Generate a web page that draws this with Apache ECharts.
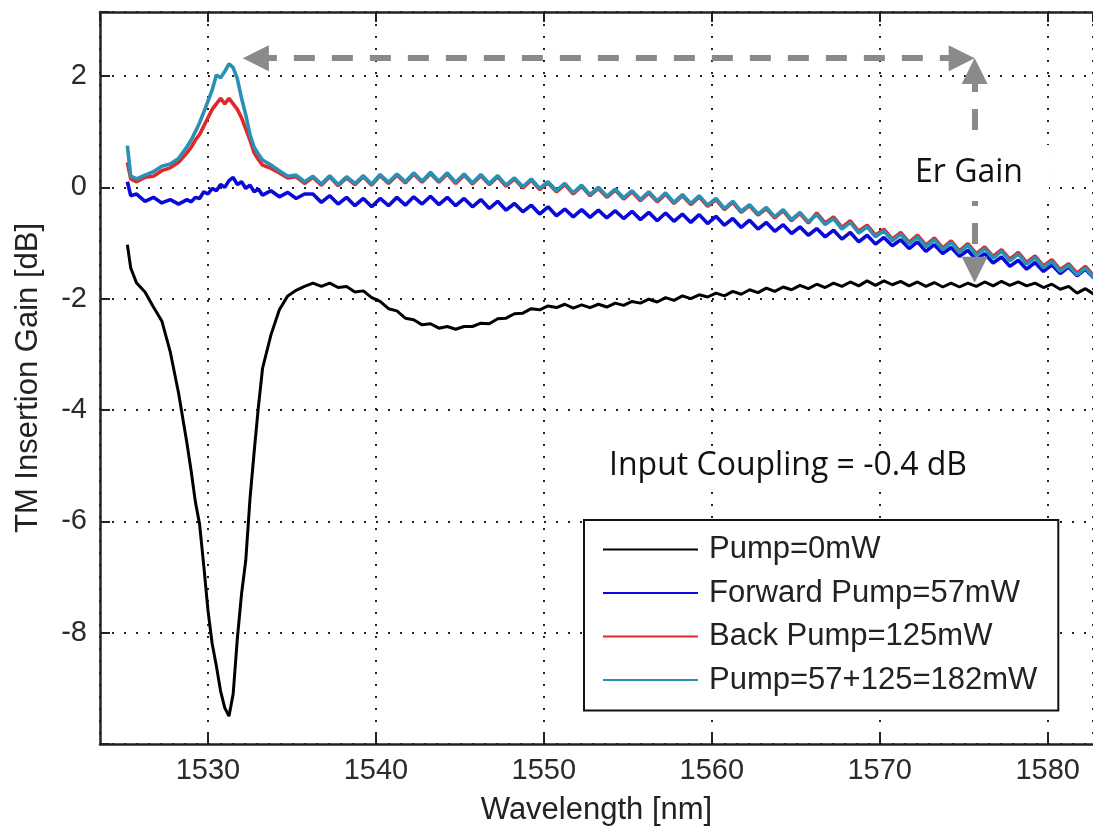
<!DOCTYPE html>
<html>
<head>
<meta charset="utf-8">
<script src="https://cdn.jsdelivr.net/npm/echarts@6/dist/echarts.min.js"></script>
<style>
html,body{margin:0;padding:0;background:#fff;}
#chart{width:1093px;height:834px;}
</style>
</head>
<body>
<div id="chart"></div>
<script>
// Wavelength samples [nm]
const wavelength = [
1525.2,1525.4,1525.75,1526.25,1526.75,1527.25,1527.75,1528.25,1528.75,1529,
1529.25,1529.5,1529.75,1530,1530.25,1530.5,1530.75,1531,1531.25,1531.5,
1531.75,1532,1532.25,1532.5,1532.75,1533,1533.25,1533.75,1534.25,1534.75,
1535.25,1535.75,
1536.25,1536.75,1537.25,1537.75,1538.25,1538.75,1539.25,1539.75,1540.25,1540.75,
1541.25,1541.75,1542.25,1542.75,1543.25,1543.75,1544.25,1544.75,1545.25,1545.75,
1546.25,1546.75,1547.25,1547.75,1548.25,1548.75,1549.25,1549.75,1550.25,1550.75,
1551.25,1551.75,1552.25,1552.75,1553.25,1553.75,1554.25,1554.75,1555.25,1555.75,
1556.25,1556.75,1557.25,1557.75,1558.25,1558.75,1559.25,1559.75,1560.25,1560.75,
1561.25,1561.75,1562.25,1562.75,1563.25,1563.75,1564.25,1564.75,1565.25,1565.75,
1566.25,1566.75,1567.25,1567.75,1568.25,1568.75,1569.25,1569.75,1570.25,1570.75,
1571.25,1571.75,1572.25,1572.75,1573.25,1573.75,1574.25,1574.75,1575.25,1575.75,
1576.25,1576.75,1577.25,1577.75,1578.25,1578.75,1579.25,1579.75,1580.25,1580.75,
1581.25,1581.75,1582.25,1582.75
];

// Pump = 0 mW
const pump0 = [
-1.03,-1.45,-1.72,-1.88,-2.15,-2.4,-2.95,-3.7,-4.6,-5.1,
-5.65,-6.05,-6.8,-7.6,-8.2,-8.6,-9.05,-9.35,-9.5,-9.1,
-8.1,-7.3,-6.7,-5.6,-4.75,-3.95,-3.25,-2.65,-2.2,-1.95,
-1.85,-1.78,
-1.72,-1.78,-1.72,-1.8,-1.78,-1.88,-1.86,-1.98,-2.05,-2.18,
-2.22,-2.35,-2.38,-2.47,-2.45,-2.53,-2.5,-2.55,-2.5,-2.5,
-2.44,-2.45,-2.36,-2.35,-2.27,-2.26,-2.18,-2.2,-2.13,-2.16,
-2.1,-2.17,-2.11,-2.16,-2.1,-2.15,-2.08,-2.12,-2.05,-2.08,
-2.01,-2.06,-1.98,-2.03,-1.95,-2.0,-1.93,-1.97,-1.9,-1.95,
-1.87,-1.92,-1.84,-1.89,-1.81,-1.87,-1.79,-1.84,-1.76,-1.82,
-1.74,-1.8,-1.72,-1.78,-1.7,-1.77,-1.68,-1.76,-1.68,-1.75,
-1.69,-1.77,-1.7,-1.78,-1.71,-1.79,-1.72,-1.79,-1.72,-1.78,
-1.7,-1.77,-1.69,-1.76,-1.7,-1.77,-1.72,-1.8,-1.74,-1.83,
-1.78,-1.9,-1.82,-1.92
];

// Forward pump = 57 mW
const forward57 = [
0.1,-0.15,-0.12,-0.25,-0.18,-0.28,-0.22,-0.3,-0.22,-0.26,
-0.18,-0.2,-0.08,-0.12,-0.02,-0.06,0.05,0.0,0.12,0.18,
0.05,0.1,-0.02,0.04,-0.08,-0.03,-0.14,-0.06,-0.17,-0.09,
-0.2,-0.12,
-0.12,-0.27,-0.15,-0.3,-0.18,-0.33,-0.2,-0.35,-0.2,-0.33,
-0.18,-0.32,-0.17,-0.3,-0.16,-0.31,-0.18,-0.33,-0.2,-0.35,
-0.22,-0.38,-0.25,-0.41,-0.29,-0.44,-0.32,-0.48,-0.35,-0.51,
-0.39,-0.53,-0.4,-0.54,-0.41,-0.55,-0.42,-0.56,-0.43,-0.58,
-0.45,-0.6,-0.46,-0.61,-0.48,-0.63,-0.49,-0.65,-0.52,-0.68,
-0.56,-0.72,-0.59,-0.75,-0.63,-0.79,-0.67,-0.83,-0.71,-0.86,
-0.74,-0.89,-0.77,-0.93,-0.81,-0.98,-0.86,-1.02,-0.9,-1.05,
-0.94,-1.1,-0.98,-1.15,-1.03,-1.19,-1.08,-1.24,-1.13,-1.3,
-1.19,-1.36,-1.25,-1.42,-1.31,-1.47,-1.35,-1.51,-1.39,-1.55,
-1.43,-1.59,-1.47,-1.63
];

// Back pump = 125 mW
const back125 = [
0.45,0.15,0.1,0.18,0.2,0.3,0.35,0.45,0.62,0.72,
0.85,0.95,1.1,1.25,1.4,1.5,1.6,1.5,1.6,1.5,
1.4,1.25,1.05,0.85,0.62,0.5,0.4,0.34,0.26,0.17,
0.19,0.07,
0.18,0.04,0.19,0.03,0.17,0.05,0.19,0.04,0.21,0.07,
0.22,0.08,0.24,0.09,0.25,0.09,0.24,0.07,0.22,0.06,
0.21,0.05,0.19,0.02,0.15,-0.01,0.13,-0.04,0.08,-0.08,
0.05,-0.12,0.02,-0.15,-0.02,-0.18,-0.05,-0.21,-0.08,-0.24,
-0.1,-0.26,-0.12,-0.29,-0.15,-0.31,-0.17,-0.34,-0.22,-0.4,
-0.27,-0.45,-0.33,-0.5,-0.38,-0.55,-0.42,-0.6,-0.47,-0.64,
-0.46,-0.64,-0.53,-0.72,-0.6,-0.79,-0.68,-0.86,-0.75,-0.93,
-0.81,-0.99,-0.86,-1.04,-0.91,-1.09,-0.96,-1.14,-1.01,-1.19,
-1.07,-1.24,-1.12,-1.29,-1.17,-1.35,-1.23,-1.41,-1.3,-1.48,
-1.37,-1.54,-1.42,-1.59
];

// Pump = 57 + 125 = 182 mW
const both182 = [
0.75,0.2,0.15,0.22,0.28,0.38,0.42,0.52,0.73,0.85,
1.0,1.16,1.35,1.55,1.75,2.02,1.97,2.08,2.22,2.15,
1.95,1.6,1.3,0.95,0.72,0.6,0.49,0.4,0.3,0.2,
0.22,0.1,
0.2,0.06,0.21,0.05,0.19,0.07,0.21,0.06,0.23,0.09,
0.24,0.1,0.26,0.11,0.27,0.11,0.26,0.09,0.24,0.08,
0.23,0.07,0.21,0.04,0.17,0.01,0.15,-0.02,0.1,-0.06,
0.07,-0.1,0.04,-0.13,0.0,-0.16,-0.03,-0.19,-0.06,-0.22,
-0.08,-0.24,-0.1,-0.27,-0.13,-0.29,-0.15,-0.32,-0.2,-0.38,
-0.25,-0.43,-0.31,-0.48,-0.36,-0.53,-0.4,-0.58,-0.45,-0.62,
-0.49,-0.67,-0.56,-0.75,-0.63,-0.82,-0.71,-0.89,-0.78,-0.96,
-0.84,-1.02,-0.89,-1.07,-0.94,-1.12,-0.99,-1.17,-1.04,-1.22,
-1.1,-1.27,-1.15,-1.32,-1.2,-1.38,-1.26,-1.44,-1.33,-1.51,
-1.4,-1.57,-1.45,-1.62
];

const seriesNames = ['Pump=0mW','Forward Pump=57mW','Back Pump=125mW','Pump=57+125=182mW'];
const seriesColors = ['#000000','#0a0ad8','#e02828','#2a90b4'];
const seriesValues = [pump0, forward57, back125, both182];

// Annotation arrows (data coordinates: wavelength, dB)
const arrowHorizontal = [[1532.85, 2.32], [1574.88, 2.32]];
const arrowVertical = [[1575.65, 2.09], [1575.65, -1.48]];

const xRange = [1523.57, 1582.7];
const yRange = [-10, 3.15];

const FONT = "'Liberation Sans', Arial, sans-serif";
const chart = echarts.init(document.getElementById('chart'), null, {renderer: 'canvas'});

const gridLine = {show: true, lineStyle: {color: '#222', width: 2, type: [2, 10]}};

const series = seriesNames.map((name, k) => ({
  name: name,
  type: 'line',
  data: wavelength.map((w, i) => [w, seriesValues[k][i]]),
  showSymbol: false,
  symbol: 'none',
  clip: true,
  lineStyle: {color: seriesColors[k], width: k === 0 ? 3 : 3.6},
  itemStyle: {color: seriesColors[k]},
  z: 3 + k
}));

const arrowStyle = {color: '#8a8a8a', width: 6, type: [21, 17], cap: 'butt'};
series.push({
  name: 'arrows',
  type: 'line',
  data: [],
  z: 10,
  markLine: {
    silent: true,
    symbol: ['triangle', 'triangle'],
    symbolSize: [26, 26],
    label: {show: false},
    lineStyle: arrowStyle,
    itemStyle: {color: '#8a8a8a'},
    emphasis: {disabled: true},
    animation: false,
    data: [
      [{coord: arrowHorizontal[0]}, {coord: arrowHorizontal[1]}],
      [{coord: arrowVertical[0]}, {coord: arrowVertical[1]}]
    ]
  }
});

chart.setOption({
  animation: false,
  backgroundColor: '#ffffff',
  grid: {left: 100, right: 0, top: 12, bottom: 90, containLabel: false},
  legend: {
    data: seriesNames,
    orient: 'vertical',
    left: 584,
    top: 520,
    backgroundColor: '#ffffff',
    borderColor: '#111',
    borderWidth: 2,
    borderRadius: 0,
    padding: [14, 21, 15, 19],
    itemGap: 12.5,
    itemWidth: 95,
    itemHeight: 2,
    icon: 'rect',
    z: 20,
    textStyle: {fontFamily: FONT, fontSize: 31, color: '#222', lineHeight: 31, padding: [0, 0, 0, 6]}
  },
  xAxis: [{
    type: 'value',
    position: 'bottom',
    min: xRange[0],
    max: xRange[1],
    splitNumber: 6,
    name: 'Wavelength [nm]',
    nameLocation: 'middle',
    nameGap: 51,
    nameTextStyle: {fontFamily: FONT, fontSize: 31, color: '#222'},
    axisLine: {show: true, onZero: false, lineStyle: {color: '#222', width: 2.5}},
    axisTick: {show: true, inside: true, length: 10, lineStyle: {color: '#222', width: 2}},
    axisLabel: {show: true, fontFamily: FONT, fontSize: 29, color: '#2a2a2a', margin: 12,
      showMinLabel: false, showMaxLabel: false, formatter: v => String(v)},
    splitLine: gridLine
  }, {
    type: 'value',
    position: 'top',
    min: xRange[0],
    max: xRange[1],
    splitNumber: 6,
    axisLine: {show: true, onZero: false, lineStyle: {color: '#222', width: 2.5}},
    axisTick: {show: true, inside: true, length: 10, lineStyle: {color: '#222', width: 2}},
    axisLabel: {show: false},
    splitLine: {show: false}
  }],
  yAxis: {
    type: 'value',
    min: yRange[0],
    max: yRange[1],
    interval: 2,
    name: 'TM Insertion Gain [dB]',
    nameLocation: 'middle',
    nameRotate: 90,
    nameGap: 56,
    nameTextStyle: {fontFamily: FONT, fontSize: 31, color: '#222'},
    axisLine: {show: true, onZero: false, lineStyle: {color: '#222', width: 2.5}},
    axisTick: {show: true, inside: true, length: 10, lineStyle: {color: '#222', width: 2}},
    axisLabel: {
      fontFamily: FONT, fontSize: 29, color: '#2a2a2a', margin: 13,
      formatter: v => (v <= -10 || v > 2.5) ? '' : String(v)
    },
    splitLine: gridLine
  },
  graphic: [
    {
      type: 'text', z: 50,
      style: {
        text: 'Er Gain', x: 969, y: 173, align: 'center', verticalAlign: 'middle',
        font: "32px 'Open Sans', 'Noto Sans', sans-serif", fill: '#111',
        backgroundColor: '#ffffff', padding: [12, 26]
      }
    },
    {
      type: 'text', z: 50,
      style: {
        text: 'Input Coupling = -0.4 dB', x: 605, y: 466, align: 'left', verticalAlign: 'middle',
        font: "32px 'Open Sans', 'Noto Sans', sans-serif", fill: '#111',
        backgroundColor: '#ffffff', padding: [2, 4]
      }
    }
  ],
  series: series
});
</script>
</body>
</html>
